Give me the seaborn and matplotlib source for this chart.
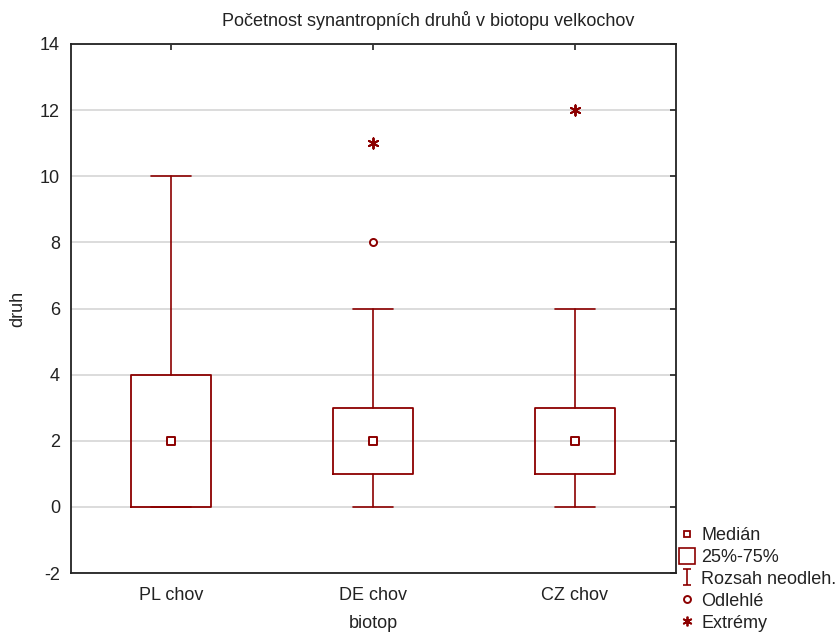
import matplotlib
matplotlib.use("Agg")
import matplotlib.pyplot as plt
import seaborn as sns
from matplotlib.lines import Line2D
from matplotlib.path import Path

categories = ["PL chov", "DE chov", "CZ chov"]
medians = [2, 2, 2]
q1 = [0, 1, 1]
q3 = [4, 3, 3]
whisker_low = [0, 0, 0]
whisker_high = [10, 6, 6]
outlier_cat = ["DE chov"]
outlier_val = [8]
extreme_cat = ["DE chov", "CZ chov"]
extreme_val = [11, 12]
yticks = [-2, 0, 2, 4, 6, 8, 10, 12, 14]
title = "Početnost synantropních druhů v biotopu velkochov"
legend_labels = ["Medián", "25%-75%", "Rozsah neodleh.", "Odlehlé", "Extrémy"]

sns.set_style("white")
plt.rcParams["font.family"] = ["Liberation Sans", "DejaVu Sans"]

color = "#8c0000"
text_color = "#222222"
fs = 13
fig = plt.figure(figsize=(8.38, 6.32), dpi=100)
ax = fig.add_axes([71 / 838, 59 / 632, 605 / 838, 529 / 632])

pos = list(range(len(categories)))
stats = [dict(label=c, med=m, q1=a, q3=b, whislo=lo, whishi=hi, fliers=[])
         for c, m, a, b, lo, hi in zip(categories, medians, q1, q3, whisker_low, whisker_high)]
ax.bxp(stats, positions=pos, widths=0.4, capwidths=0.2, showfliers=False,
       boxprops=dict(color=color, linewidth=1.3),
       whiskerprops=dict(color=color, linewidth=1.2),
       capprops=dict(color=color, linewidth=1.2),
       medianprops=dict(linestyle="none"),
       manage_ticks=False, zorder=3)

sns.scatterplot(x=pos, y=medians, marker="s", s=30, facecolor="white",
                edgecolor=color, linewidth=1.4, ax=ax, zorder=4)
sns.scatterplot(x=[categories.index(c) for c in outlier_cat], y=outlier_val, marker="o", s=26,
                facecolor="white", edgecolor=color, linewidth=1.4, ax=ax, zorder=4)
sns.scatterplot(x=[categories.index(c) for c in extreme_cat], y=extreme_val, marker=(6, 2, 0), s=55,
                color=color, linewidth=1.4, ax=ax, zorder=4)

ax.set_xlim(-0.495, 2.5)
ax.set_ylim(-2, 14)
ax.set_xticks(pos)
ax.set_xticklabels(categories)
ax.set_yticks(yticks)
ax.set_yticklabels([str(v) for v in yticks])
ax.yaxis.grid(True, color="#d9d9d9", linewidth=1.3)
ax.set_axisbelow(True)
ax.tick_params(direction="in", top=True, right=True, length=4, width=1.2,
               colors=text_color, labelsize=fs, pad=8)
ax.tick_params(axis="x", pad=10)
for s in ax.spines.values():
    s.set_color(text_color)
    s.set_linewidth(1.3)

ax.set_xlabel("biotop", fontsize=fs, color=text_color, labelpad=8)
ax.set_ylabel("druh", fontsize=fs, color=text_color, labelpad=10)
fig.text(428 / 838, 1 - 20 / 632, title, ha="center", va="center", fontsize=fs, color=text_color)

ibeam = Path([(-0.5, 1), (0.5, 1), (0, 1), (0, -1), (-0.5, -1), (0.5, -1)],
             [Path.MOVETO, Path.LINETO, Path.MOVETO, Path.LINETO, Path.MOVETO, Path.LINETO])
handles = [
    Line2D([], [], linestyle="none", marker="s", markersize=5, markerfacecolor="white",
           markeredgecolor=color, markeredgewidth=1.3),
    Line2D([], [], linestyle="none", marker="s", markersize=12, markerfacecolor="white",
           markeredgecolor=color, markeredgewidth=1.2),
    Line2D([], [], linestyle="none", marker=ibeam, markersize=12, color=color,
           markeredgewidth=1.2),
    Line2D([], [], linestyle="none", marker="o", markersize=5, markerfacecolor="white",
           markeredgecolor=color, markeredgewidth=1.4),
    Line2D([], [], linestyle="none", marker=(6, 2, 0), markersize=7, color=color,
           markeredgewidth=1.3),
]
fig.legend(handles, legend_labels, loc="upper left", bbox_to_anchor=(678 / 838, 1 - 527 / 632),
           frameon=False, fontsize=fs, handlelength=1.0, handletextpad=0.3,
           labelspacing=0.27, borderpad=0, borderaxespad=0, labelcolor=text_color)

fig.savefig("out.png", dpi=100)
